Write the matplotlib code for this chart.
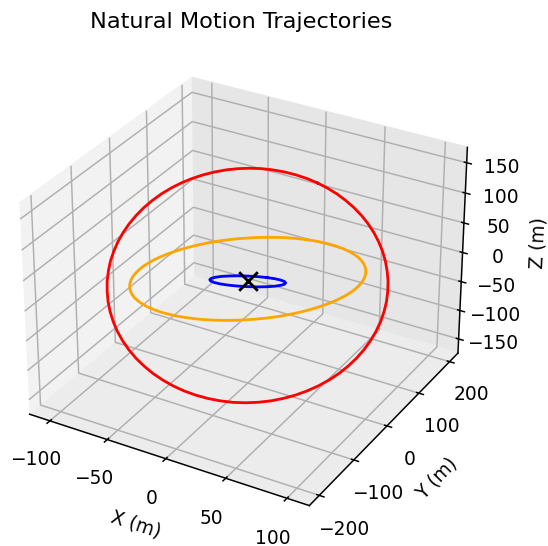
import matplotlib
matplotlib.use('Agg')
import matplotlib.pyplot as plt

# trajectories, one closed loop each
red_x = [0, 8.9, 17.8, 26.5, 35.1, 43.4, 51.3, 58.8, 65.9, 72.5, 78.5, 83.9, 88.8, 92.9, 96.4, 99, 101, 102.1, 102.5, 102.1, 101, 99, 96.4, 92.9, 88.8, 83.9, 78.5, 72.5, 65.9, 58.8, 51.3, 43.4, 35.1, 26.5, 17.8, 8.9,
         0, -8.9, -17.8, -26.5, -35.1, -43.4, -51.3, -58.8, -65.9, -72.5, -78.5, -83.9, -88.8, -92.9, -96.4, -99, -101, -102.1, -102.5, -102.1, -101, -99, -96.4, -92.9, -88.8, -83.9, -78.5, -72.5, -65.9, -58.8, -51.3, -43.4, -35.1, -26.5, -17.8, -8.9, 0]
red_y = [205, 204.2, 201.9, 198, 192.6, 185.8, 177.5, 167.9, 157, 144.9, 131.8, 117.6, 102.5, 86.6, 70.1, 53.1, 35.6, 17.8, 0, -17.8, -35.6, -53.1, -70.1, -86.6, -102.5, -117.6, -131.8, -144.9, -157, -167.9, -177.5, -185.8, -192.6, -198, -201.9, -204.2,
         -205, -204.2, -201.9, -198, -192.6, -185.8, -177.5, -167.9, -157, -144.9, -131.8, -117.6, -102.5, -86.6, -70.1, -53.1, -35.6, -17.8, 0, 17.8, 35.6, 53.1, 70.1, 86.6, 102.5, 117.6, 131.8, 144.9, 157, 167.9, 177.5, 185.8, 192.6, 198, 201.9, 204.2, 205]
red_z = [65.6, 61.9, 57.7, 53, 48, 42.5, 36.8, 30.9, 24.6, 18.1, 11.6, 4.9, -1.8, -8.5, -15.2, -21.6, -28, -34.1, -40, -45.5, -50.7, -55.6, -60, -64, -67.4, -70.4, -72.8, -74.6, -76, -76.7, -76.8, -76.4, -75.3, -73.7, -71.5, -68.9,
         -65.6, -61.9, -57.7, -53, -48, -42.5, -36.8, -30.9, -24.6, -18.1, -11.6, -4.9, 1.8, 8.5, 15.2, 21.6, 28, 34.1, 40, 45.5, 50.7, 55.6, 60, 64, 67.4, 70.4, 72.8, 74.6, 76, 76.7, 76.8, 76.4, 75.3, 73.7, 71.5, 68.9, 65.6]

orange_x = [0, 7.5, 15, 22.3, 29.4, 36.4, 43, 49.4, 55.4, 60.9, 65.9, 70.5, 74.5, 78, 80.9, 83.1, 84.8, 85.8, 86.1, 85.8, 84.8, 83.1, 80.9, 78, 74.5, 70.5, 65.9, 60.9, 55.4, 49.4, 43, 36.4, 29.4, 22.3, 15, 7.5,
            0, -7.5, -15, -22.3, -29.4, -36.4, -43, -49.4, -55.4, -60.9, -65.9, -70.5, -74.5, -78, -80.9, -83.1, -84.8, -85.8, -86.1, -85.8, -84.8, -83.1, -80.9, -78, -74.5, -70.5, -65.9, -60.9, -55.4, -49.4, -43, -36.4, -29.4, -22.3, -15, -7.5, 0]
orange_y = [172.2, 171.6, 169.5, 166.4, 161.8, 156.1, 149.1, 141, 131.9, 121.8, 110.7, 98.8, 86.1, 72.8, 58.9, 44.6, 29.9, 15, 0, -15, -29.9, -44.6, -58.9, -72.8, -86.1, -98.8, -110.7, -121.8, -131.9, -141, -149.1, -156.1, -161.8, -166.4, -169.5, -171.6,
            -172.2, -171.6, -169.5, -166.4, -161.8, -156.1, -149.1, -141, -131.9, -121.8, -110.7, -98.8, -86.1, -72.8, -58.9, -44.6, -29.9, -15, 0, 15, 29.9, 44.6, 58.9, 72.8, 86.1, 98.8, 110.7, 121.8, 131.9, 141, 149.1, 156.1, 161.8, 166.4, 169.5, 171.6, 172.2]
orange_z = [-15.6, -13.3, -10.9, -8.4, -5.8, -3, -0.3, 2.6, 5.6, 8.4, 11.3, 14.2, 17, 19.8, 22.4, 24.9, 27.3, 29.6, 31.6, 33.4, 35.2, 36.6, 37.9, 38.9, 39.6, 40.1, 40.3, 40.3, 40.1, 39.6, 38.9, 37.9, 36.6, 35.2, 33.4, 31.6,
            29.6, 27.3, 24.9, 22.4, 19.8, 17, 14.3, 11.4, 8.4, 5.6, 2.7, -0.2, -3, -5.8, -8.4, -10.9, -13.3, -15.6, -17.6, -19.4, -21.2, -22.6, -23.9, -24.9, -25.6, -26.1, -26.3, -26.3, -26.1, -25.6, -24.9, -23.9, -22.6, -21.2, -19.4, -17.6, -15.6]

blue_x = [0, 7.2, 13.8, 19.6, 24, 26.8, 27.7, 26.8, 24, 19.6, 13.8, 7.2, 0, -7.2, -13.8, -19.6, -24, -26.8, -27.7, -26.8, -24, -19.6, -13.8, -7.2, 0]
blue_y = [55.4, 53.5, 48, 39.2, 27.7, 14.4, 0, -14.4, -27.7, -39.2, -48, -53.5, -55.4, -53.5, -48, -39.2, -27.7, -14.4, 0, 14.4, 27.7, 39.2, 48, 53.5, 55.4]
blue_z = [-22, -18.9, -14.6, -9.2, -3.2, 3, 9, 14.4, 18.8, 21.9, 23.6, 23.6, 22, 18.9, 14.6, 9.2, 3.2, -3, -9, -14.4, -18.8, -21.9, -23.6, -23.6, -22]

fig = plt.figure(figsize=(548 / 134, 546 / 134), dpi=134)
ax = fig.add_axes([-8 / 548, 9 / 546, 498 / 548, 498 / 546], projection='3d')

ax.plot(red_x, red_y, red_z, color='red', linewidth=1.5)
ax.plot(orange_x, orange_y, orange_z, color='orange', linewidth=1.5)
ax.plot(blue_x, blue_y, blue_z, color='blue', linewidth=1.5)
ax.scatter([0], [0], [0], color='black', marker='x', s=100)

ax.set_xlim(-118, 118)
ax.set_ylim(-228, 228)
ax.set_zlim(-175, 175)
ax.set_xticks([-100, -50, 0, 50, 100])
ax.set_yticks([-200, -100, 0, 100, 200])
ax.set_zticks([-150, -100, -50, 0, 50, 100, 150])
ax.set_xlabel('X (m)')
ax.set_ylabel('Y (m)')
ax.set_zlabel('Z (m)')
ax.set_title('Natural Motion Trajectories')

ax.xaxis.set_pane_color((0.95, 0.95, 0.95, 1))
ax.yaxis.set_pane_color((0.90, 0.90, 0.90, 1))
ax.zaxis.set_pane_color((0.925, 0.925, 0.925, 1))

plt.savefig('out.png', dpi=134)
